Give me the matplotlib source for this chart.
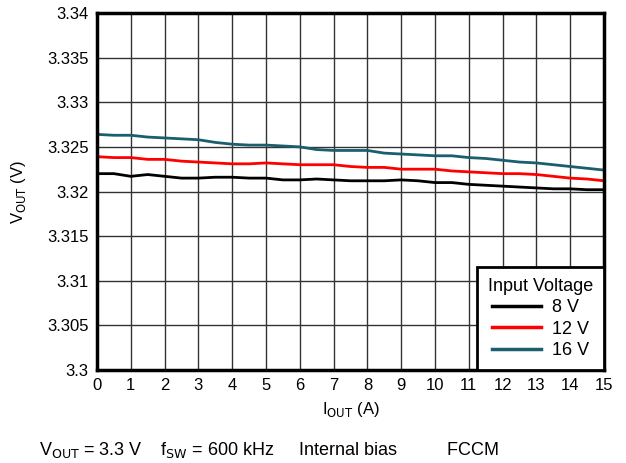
import numpy as np
import matplotlib.pyplot as plt

plt.rcParams['font.family'] = ['Liberation Sans', 'DejaVu Sans']

# Output current (A)
iout = np.arange(0, 15.5, 0.5)

# Output voltage (V) for each input voltage
v8 = [3.3220, 3.3220, 3.3217, 3.3219, 3.3217, 3.3215, 3.3215, 3.3216, 3.3216, 3.3215,
      3.3215, 3.3213, 3.3213, 3.3214, 3.3213, 3.3212, 3.3212, 3.3212, 3.3213, 3.3212,
      3.3210, 3.3210, 3.3208, 3.3207, 3.3206, 3.3205, 3.3204, 3.3203, 3.3203, 3.3202, 3.3202]
v12 = [3.3239, 3.3238, 3.3238, 3.3236, 3.3236, 3.3234, 3.3233, 3.3232, 3.3231, 3.3231,
       3.3232, 3.3231, 3.3230, 3.3230, 3.3230, 3.3228, 3.3227, 3.3227, 3.3225, 3.3225,
       3.3225, 3.3223, 3.3222, 3.3221, 3.3220, 3.3220, 3.3219, 3.3217, 3.3215, 3.3214, 3.3212]
v16 = [3.3264, 3.3263, 3.3263, 3.3261, 3.3260, 3.3259, 3.3258, 3.3255, 3.3253, 3.3252,
       3.3252, 3.3251, 3.3250, 3.3247, 3.3246, 3.3246, 3.3246, 3.3243, 3.3242, 3.3241,
       3.3240, 3.3240, 3.3238, 3.3237, 3.3235, 3.3233, 3.3232, 3.3230, 3.3228, 3.3226, 3.3224]

fig = plt.figure(figsize=(6.26, 4.63), dpi=100)
ax = fig.add_axes([97 / 626, 1 - 370 / 463, 507 / 626, 357 / 463])

ax.plot(iout, v8, color='black', lw=2, label='8 V')
ax.plot(iout, v12, color='#ff0000', lw=2, label='12 V')
ax.plot(iout, v16, color='#1b5e6e', lw=2, label='16 V')

ax.set_xlim(0, 15)
ax.set_ylim(3.3, 3.34)
ax.set_xticks(range(0, 16))
ax.set_yticks(np.arange(3.3, 3.3401, 0.005))
ax.set_yticklabels(['3.3', '3.305', '3.31', '3.315', '3.32', '3.325', '3.33', '3.335', '3.34'])
ax.grid(True, color='#333333', lw=1)
ax.tick_params(length=0, labelsize=12, pad=6)
for s in ax.spines.values():
    s.set_linewidth(2.5)

ax.set_xlabel('I$_{\\mathrm{OUT}}$ (A)', fontsize=12, labelpad=5)
ax.set_ylabel('V$_{\\mathrm{OUT}}$ (V)', fontsize=12, labelpad=14)

leg = ax.legend(title='Input Voltage', loc='lower right', fontsize=13, title_fontsize=13,
                fancybox=False, framealpha=1, edgecolor='black', borderaxespad=0,
                handlelength=2.7, borderpad=0.6, labelspacing=0.25, handletextpad=0.6)
leg.get_frame().set_linewidth(2)
for line in leg.get_lines():
    line.set_linewidth(2.5)

fig.text(0.43, 0.017, 'V$_{\\mathrm{OUT}}$ = 3.3 V    f$_{\\mathrm{SW}}$ = 600 kHz     Internal bias          FCCM',
         ha='center', fontsize=13)

fig.savefig('out.png', dpi=100)
